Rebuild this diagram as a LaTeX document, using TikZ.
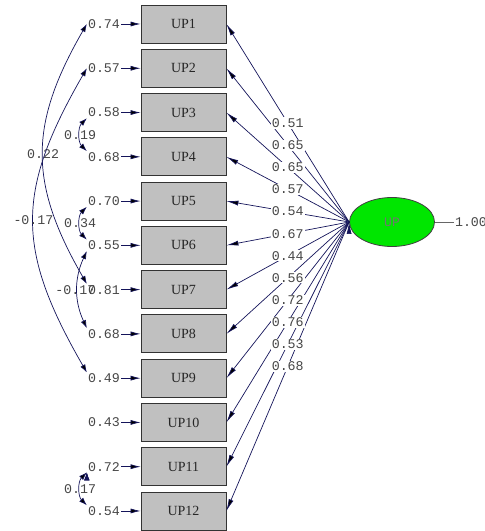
\documentclass[tikz,border=0pt]{standalone}
\usepackage{fontspec}
\setmainfont{Liberation Serif}
\newfontfamily\lisfont{Liberation Mono}
\usetikzlibrary{arrows.meta, positioning, shapes.geometric}

\definecolor{boxgray}{RGB}{192,192,192}
\definecolor{latgreen}{RGB}{0,230,0}
\definecolor{arrnavy}{RGB}{20,20,90}
\definecolor{numgray}{RGB}{70,70,70}

\tikzset{
  obs/.style={draw=black!80, line width=0.8pt, fill=boxgray, minimum width=85pt, minimum height=38pt,
    inner sep=0pt, text=black!85, font=\rmfamily\fontsize{14}{14}\selectfont},
  lat/.style={ellipse, draw=black!75, line width=0.8pt, fill=latgreen, minimum width=85pt,
    minimum height=49pt, text=black!55, font=\lisfont\fontsize{13}{13}\selectfont},
  num/.style={text=numgray, inner sep=1pt, font=\lisfont\fontsize{13.3}{13}\selectfont},
  ldnum/.style={num, fill=white},
  load/.style={draw=arrnavy, line width=0.7pt, -{Latex[length=12pt,width=5pt]}},
  errarr/.style={draw=arrnavy, line width=0.7pt, -{Latex[length=10pt,width=5pt]}},
  cov/.style={draw=arrnavy, line width=0.7pt, {Latex[length=8pt,width=5.5pt]}-{Latex[length=8pt,width=5.5pt]}}
}

\begin{document}
\begin{tikzpicture}[x=1pt, y=1pt, node distance=44.27pt, on grid]
  \useasboundingbox (0,0) rectangle (485,531);
  \node[obs] (up1) at (183.5,507) {UP1};
  \node[obs] (up2) [below=of up1] {UP2};
  \node[obs] (up3) [below=of up2] {UP3};
  \node[obs] (up4) [below=of up3] {UP4};
  \node[obs] (up5) [below=of up4] {UP5};
  \node[obs] (up6) [below=of up5] {UP6};
  \node[obs] (up7) [below=of up6] {UP7};
  \node[obs] (up8) [below=of up7] {UP8};
  \node[obs] (up9) [below=of up8] {UP9};
  \node[obs] (up10) [below=of up9] {UP10};
  \node[obs] (up11) [below=of up10] {UP11};
  \node[obs] (up12) [below=of up11] {UP12};
  \node[lat] (up) at (392,309) {UP};
  \node[num] (var) [right=79pt of up] {1.00};
  % error variances
  \node[num] (e1) [left=79.5pt of up1] {0.74};
  \node[num] (e2) [left=79.5pt of up2] {0.57};
  \node[num] (e3) [left=79.5pt of up3] {0.58};
  \node[num] (e4) [left=79.5pt of up4] {0.68};
  \node[num] (e5) [left=79.5pt of up5] {0.70};
  \node[num] (e6) [left=79.5pt of up6] {0.55};
  \node[num] (e7) [left=79.5pt of up7] {0.81};
  \node[num] (e8) [left=79.5pt of up8] {0.68};
  \node[num] (e9) [left=79.5pt of up9] {0.49};
  \node[num] (e10) [left=79.5pt of up10] {0.43};
  \node[num] (e11) [left=79.5pt of up11] {0.72};
  \node[num] (e12) [left=79.5pt of up12] {0.54};

  \draw[black!60, line width=0.6pt] (up) -- (var);

  \path[errarr]
(e1) edge (up1)
(e2) edge (up2)
(e3) edge (up3)
(e4) edge (up4)
(e5) edge (up5)
(e6) edge (up6)
(e7) edge (up7)
(e8) edge (up8)
(e9) edge (up9)
(e10) edge (up10)
(e11) edge (up11)
(e12) edge (up12)
  ;
  \path[load]
(up.west) edge (up1.east)
(up.west) edge (up2.east)
(up.west) edge (up3.east)
(up.west) edge (up4.east)
(up.west) edge (up5.east)
(up.west) edge (up6.east)
(up.west) edge (up7.east)
(up.west) edge (up8.east)
(up.west) edge (up9.east)
(up.west) edge (up10.east)
(up.west) edge (up11.east)
(up.west) edge (up12.east)
  ;
  \path
(up.west) -- node[ldnum] {0.51} (up1.east)
(up.west) -- node[ldnum] {0.65} (up2.east)
(up.west) -- node[ldnum] {0.65} (up3.east)
(up.west) -- node[ldnum] {0.57} (up4.east)
(up.west) -- node[ldnum] {0.54} (up5.east)
(up.west) -- node[ldnum] {0.67} (up6.east)
(up.west) -- node[ldnum] {0.44} (up7.east)
(up.west) -- node[ldnum] {0.56} (up8.east)
(up.west) -- node[ldnum] {0.72} (up9.east)
(up.west) -- node[ldnum] {0.76} (up10.east)
(up.west) -- node[ldnum] {0.53} (up11.east)
(up.west) -- node[ldnum] {0.68} (up12.east)
  ;
  % error covariances
  \path[cov]
(e1.west) edge [bend right=30, looseness=1.15] node[num] {0.22} (e7.north west)
(e2.west) edge [bend right=30, looseness=1.2] node[num] {-0.17} (e9.north west)
(e3.south west) edge [bend right=45] node[num] {0.19} (e4.north west)
(e5.south west) edge [bend right=45] node[num] {0.34} (e6.north west)
(e6.south west) edge [bend right=25] node[num, xshift=-2pt] {-0.17} (e8.north west)
(e11.south west) edge [bend right=45] node[num] {0.17} (e12.north west)
  ;
\end{tikzpicture}
\end{document}
